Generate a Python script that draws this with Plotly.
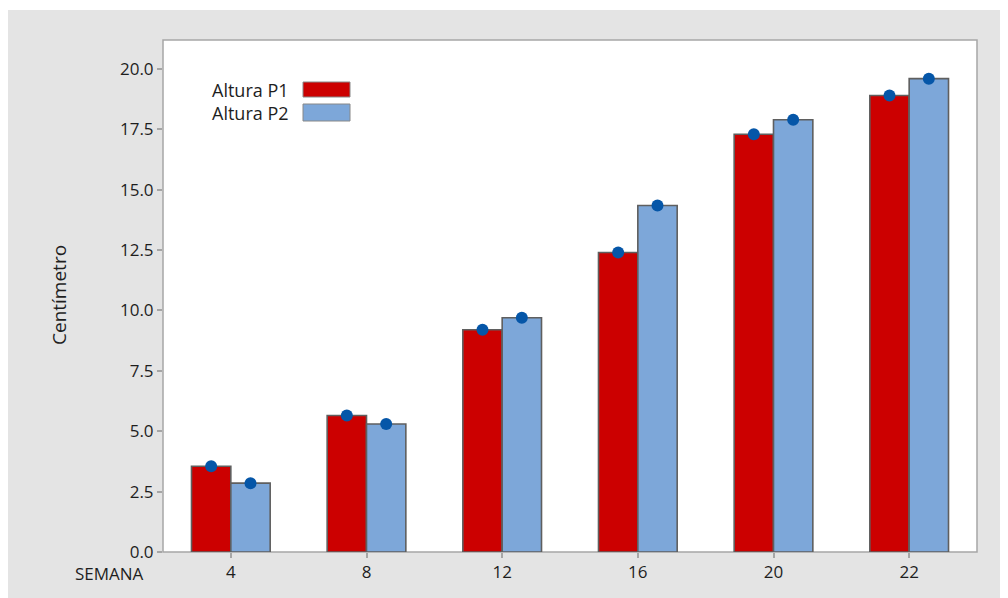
import plotly.graph_objects as go

semanas = ["4", "8", "12", "16", "20", "22"]
altura_p1 = [3.55, 5.65, 9.2, 12.4, 17.3, 18.9]
altura_p2 = [2.85, 5.3, 9.7, 14.35, 17.9, 19.6]
series_names = ["Altura P1", "Altura P2"]
y_ticks = [0, 2.5, 5, 7.5, 10, 12.5, 15, 17.5, 20]

RED = "#cc0000"
BLUE = "#7da7d9"
DOT = "#0556a8"
EDGE = "#5f5f5f"
FONT = "Open Sans"
TXT = "#1e1e1e"

fig = go.Figure()
for name, vals, col in [(series_names[0], altura_p1, RED), (series_names[1], altura_p2, BLUE)]:
    fig.add_trace(go.Bar(x=semanas, y=vals, name=name, offsetgroup=name,
                         marker=dict(color=col, line=dict(color=EDGE, width=1.6)),
                         showlegend=False))
for name, vals in [(series_names[0], altura_p1), (series_names[1], altura_p2)]:
    fig.add_trace(go.Scatter(x=semanas, y=vals, mode="markers", offsetgroup=name,
                             marker=dict(color=DOT, size=12, symbol="circle"),
                             showlegend=False))

# figure sits inside the page body (8px offset)
OFF = 8
W, H = 1000, 590
L, R, T, B = 155, 31, 32, 46
pw, ph = W - L - R, H - T - B

def px_x(p):
    return (p - OFF - L) / pw

def px_y(p):
    return (H - B - (p - OFF)) / ph

shapes = [
    dict(type="rect", xref="paper", yref="paper", x0=px_x(0), x1=px_x(1020),
         y0=px_y(620), y1=px_y(10), fillcolor="#e4e4e4", line=dict(width=0), layer="below"),
    dict(type="rect", xref="paper", yref="paper", x0=0, x1=1, y0=0, y1=1,
         fillcolor="white", line=dict(color="#a6a6a6", width=1.5), layer="below"),
]
annotations = []
leg = [(series_names[0], RED, 82, 97), (series_names[1], BLUE, 104, 121)]
for name, col, y0, y1 in leg:
    shapes.append(dict(type="rect", xref="paper", yref="paper", x0=px_x(303), x1=px_x(350),
                       y0=px_y(y1), y1=px_y(y0), fillcolor=col,
                       line=dict(color="#888888", width=1)))
annotations.append(dict(text="<br>".join(series_names), xref="paper", yref="paper",
                        x=px_x(291), y=px_y(101), align="right",
                        xanchor="right", yanchor="middle", showarrow=False,
                        font=dict(family=FONT, size=18, color=TXT)))
annotations.append(dict(text="Centímetro", xref="paper", yref="paper", x=px_x(59), y=px_y(295),
                        textangle=-90, xanchor="center", yanchor="middle", showarrow=False,
                        font=dict(family=FONT, size=19, color=TXT)))
annotations.append(dict(text="SEMANA", xref="paper", yref="paper", x=px_x(109), y=px_y(573),
                        xanchor="center", yanchor="middle", showarrow=False,
                        font=dict(family=FONT, size=17, color=TXT)))

fig.update_layout(
    width=W, height=H,
    margin=dict(l=L, r=R, t=T, b=B),
    paper_bgcolor="white", plot_bgcolor="rgba(0,0,0,0)",
    barmode="group", bargap=0.42, bargroupgap=0,
    scattermode="group", scattergap=0.42,
    shapes=shapes, annotations=annotations,
    font=dict(family=FONT, size=17, color=TXT),
)
fig.update_xaxes(type="category", showgrid=False, zeroline=False, showline=False,
                 ticks="outside", ticklen=5, tickcolor="#a6a6a6", tickwidth=1.5,
                 tickfont=dict(family=FONT, size=17, color=TXT))
fig.update_yaxes(range=[0, 21.2], tickvals=y_ticks, tickformat=".1f", showgrid=False,
                 zeroline=False, showline=False, ticks="outside", ticklen=5,
                 tickcolor="#a6a6a6", tickwidth=1.5,
                 tickfont=dict(family=FONT, size=17, color=TXT))

fig.write_html("out.html")
